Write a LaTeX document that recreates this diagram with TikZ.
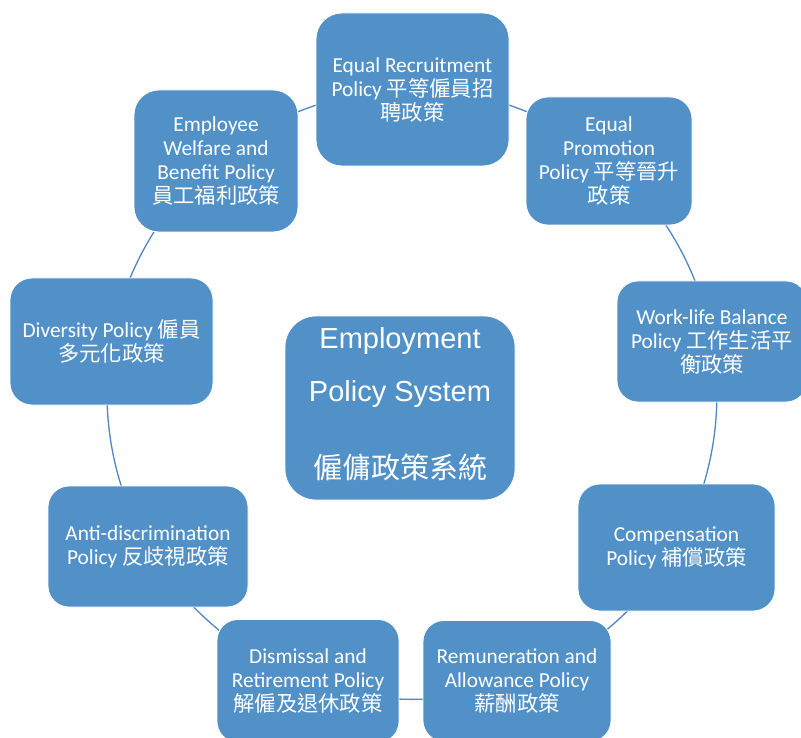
\documentclass[tikz,border=0pt]{standalone}
\usepackage{fontspec}
\setmainfont{Carlito}
\newfontfamily\cjk{Noto Sans CJK TC}
\newfontfamily\titlefont{Liberation Sans}
\usetikzlibrary{backgrounds}
\definecolor{boxblue}{RGB}{82,145,199}
\definecolor{linkblue}{RGB}{79,134,192}
\tikzset{
  policy/.style={draw=white, line width=0.8pt, fill=boxblue, text=white,
    align=center, inner sep=0pt, font=\fontsize{21.33pt}{24pt}\selectfont},
  link/.style={draw=linkblue, line width=1.3pt, bend left=20, looseness=0.878},
}
\begin{document}
\begin{tikzpicture}[x=1pt, y=-1pt]
\useasboundingbox (0,0) rectangle (801,738);

% the nine policies, clockwise from the top, on a circle round (412,394)
\node[policy, minimum width=193pt, minimum height=153pt, rounded corners=26pt] (rec) at (412.5,89.5)
  {Equal Recruitment\\Policy {\cjk 平等僱員招}\\{\cjk 聘政策}};
\node[policy, minimum width=166pt, minimum height=128pt, rounded corners=22pt] (pro) at (609,161)
  {Equal\\Promotion\\Policy {\cjk 平等晉升}\\{\cjk 政策}};
\node[policy, minimum width=190pt, minimum height=121pt, rounded corners=21pt] (wlb) at (712,341.5)
  {Work-life Balance\\Policy {\cjk 工作生活平}\\{\cjk 衡政策}};
\node[policy, minimum width=197pt, minimum height=127pt, rounded corners=22pt] (comp) at (676.5,547.5)
  {Compensation\\Policy {\cjk 補償政策}};
\node[policy, minimum width=188pt, minimum height=121pt, rounded corners=21pt] (rem) at (517,681)
  {Remuneration and\\Allowance Policy\\{\cjk 薪酬政策}};
\node[policy, minimum width=182pt, minimum height=123pt, rounded corners=21pt] (dis) at (308,681)
  {Dismissal and\\Retirement Policy\\{\cjk 解僱及退休政策}};
\node[policy, minimum width=200pt, minimum height=121pt, rounded corners=21pt] (anti) at (148,546.5)
  {Anti-discrimination\\Policy {\cjk 反歧視政策}};
\node[policy, minimum width=203pt, minimum height=127pt, rounded corners=22pt] (div) at (111.5,341.5)
  {Diversity Policy {\cjk 僱員}\\{\cjk 多元化政策}};
\node[policy, minimum width=164pt, minimum height=142pt, rounded corners=25pt] (wel) at (216,161)
  {Employee\\Welfare and\\Benefit Policy\\{\cjk 員工福利政策}};

% central box; the strut deepens the last line so the block sits a little higher
\node[policy, minimum width=230pt, minimum height=184pt, rounded corners=31pt,
  font=\titlefont\fontsize{29pt}{52.5pt}\selectfont] (sys) at (400,408)
  {Employment\\Policy System\\[25pt]{\cjk 僱傭政策系統}\rule[-9.5pt]{0pt}{1pt}};

% arcs of the cycle, drawn behind the boxes
\begin{pgfonlayer}{background}
\draw[link] (rec.center) to (pro.center);
\draw[link] (pro.center) to (wlb.center);
\draw[link] (wlb.center) to (comp.center);
\draw[link] (comp.center) to (rem.center);
\draw[link] (rem.center) to (dis.center);
\draw[link] (dis.center) to (anti.center);
\draw[link] (anti.center) to (div.center);
\draw[link] (div.center) to (wel.center);
\draw[link] (wel.center) to (rec.center);
\end{pgfonlayer}
\end{tikzpicture}
\end{document}
